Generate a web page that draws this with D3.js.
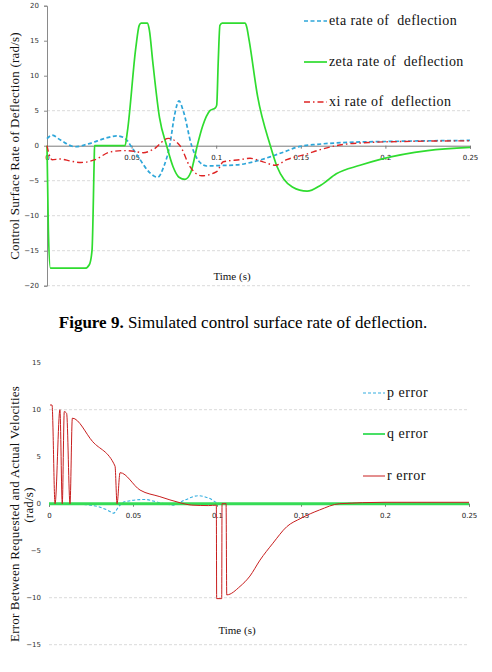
<!DOCTYPE html>
<html>
<head>
<meta charset="utf-8">
<script src="https://cdn.jsdelivr.net/npm/d3@7"></script>
<style>
  body { margin: 0; background: #fff; }
  svg { display: block; }
  svg text { white-space: pre; }
</style>
</head>
<body>
<div id="fig"></div>
<script>
// Figure 9 data, time in s
const etaT  = [0, 0.003, 0.008, 0.0165, 0.025, 0.035, 0.0412, 0.045, 0.0475, 0.0495, 0.055, 0.0605, 0.0654, 0.069, 0.0725, 0.0755, 0.078, 0.0805, 0.0855, 0.09, 0.0944, 0.1, 0.112, 0.122, 0.1318, 0.14, 0.1495, 0.16, 0.175, 0.2, 0.225, 0.25];
const etaV  = [1.0, 1.5, 0.8, -0.15, 0.3, 1.1, 1.4, 1.2, 0.7, 0, -2, -3.8, -4.5, -3.0, 0, 4.5, 6.4, 5.0, 0, -2.3, -2.9, -2.85, -2.75, -2.3, -1.6, -0.9, -0.1, 0.2, 0.45, 0.6, 0.7, 0.75];

const zetaT = [0, 0.0008, 0.002, 0.0225, 0.025, 0.0266, 0.0279, 0.0281, 0.0461, 0.0475, 0.0525, 0.0545, 0.0556, 0.0594, 0.0605, 0.0625, 0.0665, 0.0707, 0.0745, 0.078, 0.0816, 0.085, 0.0888, 0.092, 0.0963, 0.0995, 0.1003, 0.1012, 0.1022, 0.1035, 0.117, 0.118, 0.1195, 0.1245, 0.132, 0.136, 0.14, 0.145, 0.1537, 0.162, 0.171, 0.185, 0.197, 0.225, 0.25];
const zetaV = [0, -12, -17.5, -17.5, -17, -15, -2, 0, 0, 2, 14, 17.2, 17.5, 17.5, 16.5, 12, 4, 0, -3, -4.5, -4.8, -3.8, 0, 2.8, 5, 5.4, 5.8, 12, 17.2, 17.5, 17.5, 17, 15, 7, 0, -3, -4.8, -5.9, -6.5, -5.6, -4.0, -2.8, -1.95, -0.7, -0.25];

const xiT   = [0, 0.0012, 0.003, 0.0077, 0.014, 0.02, 0.0284, 0.0372, 0.045, 0.0515, 0.0569, 0.063, 0.0717, 0.0786, 0.0845, 0.0914, 0.1003, 0.1042, 0.114, 0.12, 0.1277, 0.135, 0.1417, 0.1535, 0.161, 0.173, 0.19, 0.21, 0.25];
const xiV   = [0, -1.2, -2.0, -1.9, -2.2, -2.4, -2.0, -0.9, -0.7, -0.8, -1.0, -0.5, 1.05, 0, -3, -4.3, -3.7, -2.3, -2.0, -1.8, -2.3, -2.8, -2.0, -1.2, -0.6, 0.1, 0.45, 0.6, 0.7];

const fig9Names = ["eta rate of  deflection", "zeta rate of  deflection", "xi rate of  deflection"];

// Velocity error data
const pT = [0, 0.015, 0.022, 0.029, 0.035, 0.0385, 0.0415, 0.045, 0.057, 0.066, 0.074, 0.081, 0.0887, 0.095, 0.102, 0.15, 0.2, 0.25];
const pV = [0, 0, -0.1, -0.3, -0.7, -1.0, -0.3, 0.2, 0.45, 0.1, -0.15, 0.4, 0.85, 0.6, 0, 0, 0.05, 0];

const qT = [0, 0.05, 0.1, 0.15, 0.2, 0.25];
const qV = [0, 0, 0, 0, 0, 0];

const rT = [0.0006, 0.0018, 0.0036, 0.0065, 0.0079, 0.0091, 0.0105, 0.0125, 0.0139, 0.026, 0.0393, 0.0405, 0.0423, 0.0542, 0.066, 0.078, 0.085, 0.095, 0.0996, 0.0998, 0.1028, 0.103, 0.1054, 0.1058, 0.1137, 0.1196, 0.1256, 0.1333, 0.1415, 0.15, 0.161, 0.173, 0.2, 0.25];
const rV = [10.5, 10.5, 0, 10, 0, 9.8, 9.6, 0, 9.1, 6.6, 4.0, 0, 3.3, 1.45, 0.75, 0.1, -0.15, -0.2, -0.15, -10.1, -10.1, 0, 0, -9.7, -8.8, -7.7, -6.0, -4.2, -2.45, -1.55, -0.67, 0, 0.15, 0.15];

const errNames = ["p error", "q error", "r error"];

const xTicks = [0, 0.05, 0.1, 0.15, 0.2, 0.25];
const yTicks1 = [20, 15, 10, 5, 0, -5, -10, -15, -20];
const yGrid1 = [5, -5, -10, -15, -20];
const yTicks2 = [15, 10, 5, 0, -5, -10, -15];
const yGrid2 = [10, -10, -15];

const W = 492, H = 672;
const serif = "'Liberation Serif', 'Times New Roman', 'DejaVu Serif', serif";
const sans = "'DejaVu Sans', Verdana, sans-serif";

const svg = d3.select("#fig").append("svg")
    .attr("width", W)
    .attr("height", H);

const zip = (T, V) => T.map((t, i) => [t, V[i]]);

function drawChart(g, o) {
    const x = d3.scaleLinear().domain([0, 0.25]).range(o.xRange);
    const y = d3.scaleLinear().domain(o.yDomain).range(o.yRange);

    // dashed grid
    g.selectAll(".grid")
        .data(o.grid)
        .join("line")
        .attr("x1", x(0)).attr("x2", x(0.25))
        .attr("y1", d => y(d)).attr("y2", d => y(d))
        .attr("stroke", "#cfcfcf")
        .attr("stroke-width", 0.8)
        .attr("stroke-dasharray", "3,2");

    // y axis
    const ya = g.append("g")
        .attr("transform", `translate(${x(0)},0)`)
        .call(d3.axisLeft(y).tickValues(o.yTicks).tickSize(3).tickPadding(5).tickFormat(d3.format("d")));
    ya.select(".domain").attr("stroke", o.yLine ? "#8a8a8a" : "none");
    ya.selectAll(".tick line").attr("stroke", o.yLine ? "#8a8a8a" : "none");
    ya.selectAll("text").attr("font-family", sans).attr("font-size", 7).attr("fill", "#333");

    // x axis sitting on zero line
    const xa = g.append("g")
        .attr("transform", `translate(0,${y(0)})`)
        .call(d3.axisBottom(x).tickValues(xTicks).tickSize(3).tickPadding(6).tickFormat(d => d3.format("")(+d.toFixed(2))));
    xa.select(".domain").attr("stroke", "#7a7a7a").attr("stroke-width", 1);
    xa.selectAll(".tick line").attr("stroke", "#7a7a7a");
    xa.selectAll("text").attr("font-family", sans).attr("font-size", 7).attr("fill", "#222");

    const line = d3.line()
        .x(d => x(d[0]))
        .y(d => y(d[1]))
        .curve(d3.curveMonotoneX);

    o.series.forEach(s => {
        g.append("path")
            .datum(s.data)
            .attr("fill", "none")
            .attr("stroke", s.color)
            .attr("stroke-width", s.width)
            .attr("stroke-dasharray", s.dash)
            .attr("stroke-linejoin", "round")
            .attr("d", line);
    });

    // legend
    o.series.forEach((s, i) => {
        const ly = o.legend.y[i];
        g.append("line")
            .attr("x1", o.legend.x).attr("x2", o.legend.x + o.legend.len)
            .attr("y1", ly).attr("y2", ly)
            .attr("stroke", s.color)
            .attr("stroke-width", Math.min(s.width, 1.8))
            .attr("stroke-dasharray", s.dash);
        g.append("text")
            .attr("x", o.legend.x + o.legend.len + 2)
            .attr("y", ly + 4)
            .attr("font-family", serif)
            .attr("font-size", o.legend.size)
            .attr("letter-spacing", o.legend.spacing)
            .attr("fill", "#111")
            .text(s.name);
    });

    // axis titles
    g.append("text")
        .attr("x", o.timeX).attr("y", o.timeY)
        .attr("text-anchor", "middle")
        .attr("font-family", serif)
        .attr("font-size", 11)
        .attr("fill", "#111")
        .text("Time (s)");

    o.yLabel.forEach(l => {
        g.append("text")
            .attr("transform", `translate(${l.x},${l.y}) rotate(-90)`)
            .attr("text-anchor", "middle")
            .attr("font-family", serif)
            .attr("font-size", 13)
            .attr("letter-spacing", 0.2)
            .attr("fill", "#111")
            .text(l.text);
    });
}

drawChart(svg.append("g"), {
    xRange: [47, 470],
    yDomain: [-20, 20],
    yRange: [285.7, 5.7],
    yTicks: yTicks1,
    grid: yGrid1,
    yLine: true,
    series: [
        { name: fig9Names[0], data: zip(etaT, etaV), color: "#2ea6d9", width: 1.7, dash: "4,2.5" },
        { name: fig9Names[1], data: zip(zetaT, zetaV), color: "#2fdc2f", width: 1.7, dash: null },
        { name: fig9Names[2], data: zip(xiT, xiV), color: "#de2424", width: 1.4, dash: "6,3,1.5,3" }
    ],
    legend: { x: 304, len: 23, y: [21, 62, 102], size: 14, spacing: 0.4 },
    timeX: 232, timeY: 280,
    yLabel: [{ x: 19, y: 146, text: "Control Surface Rate of Deflection (rad/s)" }]
});

// caption
svg.append("text")
    .attr("x", 243).attr("y", 328)
    .attr("text-anchor", "middle")
    .attr("font-family", serif)
    .attr("font-size", 17)
    .attr("fill", "#000")
    .call(t => {
        t.append("tspan").attr("font-weight", "bold").text("Figure 9.");
        t.append("tspan").text(" Simulated control surface rate of deflection.");
    });

drawChart(svg.append("g"), {
    xRange: [49, 469],
    yDomain: [-15, 15],
    yRange: [644.7, 362.7],
    yTicks: yTicks2,
    grid: yGrid2,
    yLine: false,
    series: [
        { name: errNames[0], data: zip(pT, pV), color: "#35aee0", width: 1.1, dash: "3,2" },
        { name: errNames[1], data: zip(qT, qV), color: "#35dc55", width: 3, dash: null },
        { name: errNames[2], data: zip(rT, rV), color: "#c81e1e", width: 1.0, dash: null }
    ],
    legend: { x: 363, len: 22, y: [393, 434, 476], size: 14, spacing: 0.5 },
    timeX: 237, timeY: 634,
    yLabel: [
        { x: 19, y: 514, text: "Error Between Requested and Actual Velocities" },
        { x: 33, y: 505, text: "(rad/s)" }
    ]
});
</script>
</body>
</html>
